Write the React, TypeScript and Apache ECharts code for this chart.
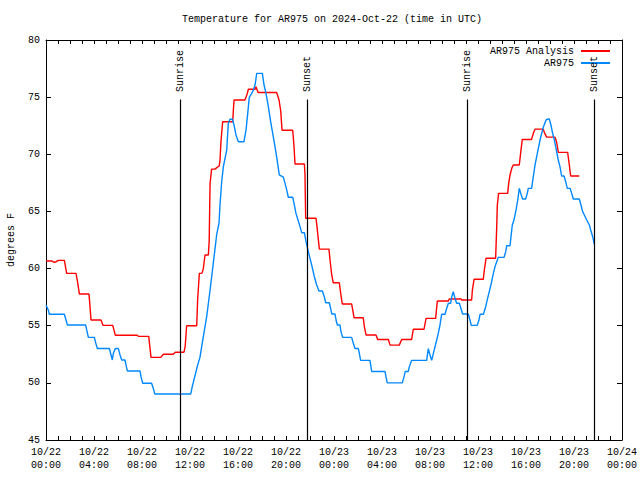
import React, { useEffect, useRef } from 'react';
import * as echarts from 'echarts';

const FONT = '"Liberation Mono", "DejaVu Sans Mono", monospace';

const titleText = 'Temperature for AR975 on 2024-Oct-22 (time in UTC)';
const yAxisName = 'degrees F';
const seriesNames = ['AR975 Analysis', 'AR975'];
const seriesColors = ['#ff0000', '#0088ff'];

const xTickLabels = [
  '10/22\n00:00', '10/22\n04:00', '10/22\n08:00', '10/22\n12:00', '10/22\n16:00', '10/22\n20:00',
  '10/23\n00:00', '10/23\n04:00', '10/23\n08:00', '10/23\n12:00', '10/23\n16:00', '10/23\n20:00',
  '10/24\n00:00',
];

// hours since 10/22 00:00 UTC
const analysisHours = [
  0, 0.5, 0.67, 0.85, 1.03, 1.53, 1.72, 2.5, 2.62, 2.78, 3.58, 3.66, 3.75, 4.58, 4.75, 5.56, 5.78,
  7.6, 7.7, 8.56, 8.75, 9.56, 9.78, 10.6, 10.78, 11.5, 11.6, 11.72, 12.56, 12.64, 12.78, 13.0, 13.11,
  13.25, 13.53, 13.6, 13.67, 13.8, 14.08, 14.44, 14.5, 14.58, 14.72, 15.56, 15.61, 15.67, 16.58,
  16.78, 16.86, 17.42, 17.5, 17.67, 19.22, 19.33, 19.42, 19.56, 19.67, 20.56, 20.67, 20.75, 21.53,
  21.58, 21.64, 22.5, 22.57, 22.64, 22.78, 23.58, 23.67, 23.81, 23.94, 24.44, 24.56, 24.69, 25.47,
  25.56, 25.67, 26.44, 26.53, 26.67, 27.5, 27.64, 28.53, 28.67, 29.44, 29.64, 30.47, 30.61, 31.5,
  31.67, 32.47, 32.61, 33.53, 33.6, 34.58, 34.64, 35.47, 35.53, 35.67, 36.44, 36.53, 36.67, 37.47,
  37.56, 37.61, 37.72, 38.47, 38.56, 38.67, 38.81, 38.94, 39.44, 39.56, 39.69, 40.47, 40.61, 40.75,
  41.44, 41.53, 41.72, 42.42, 42.56, 42.69, 43.47, 43.61, 43.72, 44.44,
];
const analysisTemps = [
  60.66, 60.66, 60.55, 60.6, 60.72, 60.72, 59.58, 59.58, 58.9, 57.78, 57.78, 56.8, 55.5, 55.5, 55.03, 55.03, 54.16,
  54.16, 54.07, 54.07, 52.23, 52.23, 52.5, 52.5, 52.68, 52.68, 53.2, 55.0, 55.0, 57.34, 59.58, 59.6, 60.0,
  61.19, 61.19, 62.44, 67.4, 68.7, 68.7, 69.0, 69.5, 71.1, 72.85, 72.85, 73.8, 74.75, 74.75,
  75.33, 75.69, 75.69, 75.9, 75.4, 75.4, 75.05, 74.75, 73.8, 72.1, 72.1, 70.67, 69.15, 69.15,
  68.3, 64.4, 64.4, 63.8, 63.08, 61.7, 61.7, 60.75, 59.44, 58.76, 58.76, 57.83, 56.9, 56.9,
  56.38, 55.7, 55.7, 54.92, 54.19, 54.19, 53.8, 53.8, 53.3, 53.3, 53.8, 53.8, 54.69, 54.69,
  55.64, 55.64, 57.16, 57.16, 57.34, 57.34, 57.25, 57.25, 58.1, 59.06, 59.06, 59.88, 60.9, 60.9,
  63.67, 65.56, 66.58, 66.58, 67.46, 68.19, 68.77, 69.06, 69.06, 70.17, 71.3, 71.3, 71.84, 72.2,
  72.2, 71.9, 71.5, 71.5, 71.03, 70.17, 70.17, 69.06, 68.1, 68.1,
];

const obsHours = [
  0, 0.19, 0.28, 1.53, 1.67, 1.78, 3.3, 3.42, 3.53, 4.03, 4.14, 4.28, 5.28, 5.42, 5.53, 5.61, 5.78,
  6.03, 6.17, 6.31, 6.58, 6.67, 6.78, 7.83, 7.92, 8.06, 8.8, 8.94, 9.06, 12.06, 12.19, 12.36, 12.5,
  12.64, 12.83, 13.11, 13.39, 13.67, 13.94, 14.22, 14.42, 14.5, 14.64, 14.78, 14.92, 15.06, 15.19,
  15.33, 15.53, 15.67, 15.83, 16.03, 16.5, 16.67, 16.81, 16.94, 17.22, 17.42, 17.56, 18.03, 18.17,
  18.33, 18.53, 18.72, 18.94, 19.22, 19.44, 19.78, 19.92, 20.06, 20.19, 20.56, 20.67, 20.83, 21.0,
  21.17, 21.31, 21.53, 21.67, 21.86, 22.14, 22.36, 22.56, 22.75, 23.03, 23.19, 23.31, 23.61, 23.72,
  23.81, 24.08, 24.17, 24.28, 24.5, 24.58, 24.72, 25.47, 25.61, 25.75, 26.03, 26.11, 26.22, 27.0,
  27.14, 28.25, 28.33, 28.44, 29.69, 29.83, 29.94, 30.19, 30.28, 30.47, 31.72, 31.86, 32.0, 32.14,
  32.28, 32.42, 32.56, 32.69, 32.83, 32.97, 33.25, 33.39, 33.53, 33.72, 33.81, 33.94, 34.08, 34.22,
  34.44, 34.58, 34.72, 35.19, 35.33, 35.44, 35.94, 36.08, 36.17, 36.45, 36.6, 36.78, 36.94, 37.14,
  37.28, 37.42, 37.56, 37.69, 38.17, 38.31, 38.39, 38.67, 38.75, 38.86, 39.0, 39.17, 39.31, 39.44,
  39.56, 39.72, 39.97, 40.11, 40.19, 40.47, 40.61, 40.75, 40.89, 41.03, 41.17, 41.31, 41.44, 41.67,
  41.86, 41.94, 42.08, 42.22, 42.36, 42.5, 42.69, 42.83, 42.97, 43.17, 43.31, 43.44, 43.67, 43.81,
  43.94, 44.44, 44.58, 44.72, 44.86, 45.06, 45.28, 45.39, 45.56, 45.69,
];
const obsTemps = [
  56.8, 56.38, 56.0, 56.0, 55.5, 55.06, 55.06, 54.5, 53.98, 53.98, 53.5, 53.01, 53.01, 52.44, 52.0, 52.58, 53.0,
  53.0, 52.44, 52.0, 52.0, 51.56, 51.04, 51.04, 50.54, 49.96, 49.96, 49.52, 49.03, 49.03, 49.67, 50.4, 50.98,
  51.56, 52.23, 54.04, 55.79, 58.1, 60.46, 62.94, 64.0, 65.56, 67.6, 68.92, 69.65, 70.37, 72.7,
  73.06, 73.06, 72.56, 71.69, 71.1, 71.1, 72.13, 73.58, 74.98, 75.48, 76.06, 77.08, 77.08, 76.06,
  75.33, 74.17, 72.86, 71.55, 69.79, 68.19, 68.0, 67.46, 66.88, 66.24, 66.24, 65.7, 64.83, 64.25,
  63.67, 63.14, 63.14, 62.35, 61.48, 60.31, 59.29, 58.56, 58.04, 58.04, 57.54, 57.01, 57.01, 56.52,
  56.03, 56.03, 55.5, 55.06, 55.06, 54.48, 53.98, 53.98, 53.46, 53.0, 53.0, 52.58, 51.97, 51.97,
  51.0, 51.0, 50.54, 50.0, 50.0, 50.5, 51.0, 51.0, 51.42, 51.97, 51.97, 53.0, 52.44, 51.97,
  52.58, 53.17, 53.75, 54.33, 55.06, 56.0, 56.0, 56.52, 56.96, 56.96, 57.54, 57.98, 57.4, 56.96,
  56.96, 56.5, 56.03, 56.03, 55.5, 55.03, 55.03, 55.5, 56.0, 56.0, 56.5, 57.3, 57.98, 58.86,
  59.58, 60.17, 60.6, 60.98, 60.98, 61.48, 62.0, 62.0, 62.79, 63.81, 64.25, 65.13, 66.0, 67.02,
  66.58, 66.09, 66.09, 66.58, 67.02, 67.02, 68.04, 69.06, 69.79, 70.52, 71.25, 71.84, 72.36, 73.0,
  73.09, 73.09, 72.56, 71.84, 71.25, 70.52, 69.5, 68.92, 68.1, 68.1, 67.6, 67.02, 67.02, 66.58,
  66.09, 66.09, 65.56, 64.98, 64.69, 64.25, 63.81, 63.38, 62.79, 62.15,
];

const sunEventNames = ['Sunrise', 'Sunset', 'Sunrise', 'Sunset'];
const sunEventHours = [11.19, 21.77, 35.11, 45.69];

const toPairs = (xs: number[], ys: number[]) => xs.map((x, i) => [x, ys[i]]);

const baseText = { fontFamily: FONT, fontSize: 10, color: '#000' };

export default function App() {
  const ref = useRef<HTMLDivElement>(null);

  useEffect(() => {
    if (!ref.current) return;
    const chart = echarts.init(ref.current, null, { renderer: 'svg' });

    const axisLine = { show: true, onZero: false, lineStyle: { color: '#000', width: 1 } };

    const legendBase = {
      right: 30,
      align: 'right',
      padding: 0,
      itemWidth: 29,
      itemHeight: 2,
      itemGap: 8,
      icon: 'rect',
      textStyle: { ...baseText, padding: [0, 2, 0, 0] },
    };

    const option: any = {
      animation: false,
      backgroundColor: '#ffffff',
      textStyle: { fontFamily: FONT },
      title: {
        text: titleText,
        left: 182,
        top: 14,
        padding: 0,
        textStyle: { ...baseText, fontWeight: 'normal' },
      },
      legend: [
        { ...legendBase, data: [seriesNames[0]], top: 46 },
        { ...legendBase, data: [seriesNames[1]], top: 58 },
      ],
      grid: {
        left: 46,
        right: 18,
        top: 40,
        bottom: 40,
        containLabel: false,
        outerBoundsMode: 'none',
      },
      xAxis: [
        {
          type: 'value',
          min: 0,
          max: 48,
          interval: 1,
          position: 'bottom',
          axisLine,
          axisTick: { show: true, inside: true, length: 4, lineStyle: { color: '#000' } },
          axisLabel: {
            ...baseText,
            margin: 6,
            lineHeight: 13,
            formatter: (v: number) => {
              const r = Math.round(v);
              return r % 4 === 0 ? xTickLabels[r / 4] : '';
            },
          },
          splitLine: { show: false },
        },
        {
          type: 'value',
          min: 0,
          max: 48,
          interval: 1,
          position: 'top',
          axisLine,
          axisTick: { show: true, inside: true, length: 4, lineStyle: { color: '#000' } },
          axisLabel: { show: false },
          splitLine: { show: false },
        },
      ],
      yAxis: [
        {
          type: 'value',
          min: 45,
          max: 80,
          interval: 5,
          position: 'left',
          name: yAxisName,
          nameLocation: 'middle',
          nameRotate: 90,
          nameGap: 30,
          nameTextStyle: baseText,
          axisLine,
          axisTick: { show: true, inside: true, length: 5, lineStyle: { color: '#000' } },
          axisLabel: { ...baseText, margin: 6 },
          splitLine: { show: false },
        },
        {
          type: 'value',
          min: 45,
          max: 80,
          interval: 5,
          position: 'right',
          axisLine,
          axisTick: { show: true, inside: true, length: 5, lineStyle: { color: '#000' } },
          axisLabel: { show: false },
          splitLine: { show: false },
        },
      ],
      series: [
        {
          name: seriesNames[0],
          type: 'line',
          xAxisIndex: 0,
          yAxisIndex: 0,
          data: toPairs(analysisHours, analysisTemps),
          symbol: 'none',
          showSymbol: false,
          color: seriesColors[0],
          itemStyle: { color: seriesColors[0] },
          lineStyle: { color: seriesColors[0], width: 1.4 },
          z: 3,
        },
        {
          name: seriesNames[1],
          type: 'line',
          xAxisIndex: 0,
          yAxisIndex: 0,
          data: toPairs(obsHours, obsTemps),
          symbol: 'none',
          showSymbol: false,
          color: seriesColors[1],
          itemStyle: { color: seriesColors[1] },
          lineStyle: { color: seriesColors[1], width: 1.4 },
          z: 3,
          markLine: {
            silent: true,
            symbol: ['none', 'none'],
            lineStyle: { color: '#000', width: 1.2, type: 'solid' },
            label: { show: false },
            data: sunEventHours.map((h) => [{ coord: [h, 74.8] }, { coord: [h, 45] }]),
          },
          markPoint: {
            silent: true,
            symbol: 'circle',
            symbolSize: 0,
            data: sunEventHours.map((h, i) => ({
              name: sunEventNames[i],
              coord: [h, 75.45],
              label: {
                show: true,
                position: 'inside',
                formatter: '{b}',
                rotate: 90,
                align: 'left',
                verticalAlign: 'middle',
                ...baseText,
              },
            })),
          },
        },
      ],
    };

    chart.setOption(option);
    return () => chart.dispose();
  }, []);

  return (
    <div
      ref={ref}
      style={{ position: 'fixed', left: 0, top: 0, width: 640, height: 480, background: '#fff' }}
    />
  );
}
